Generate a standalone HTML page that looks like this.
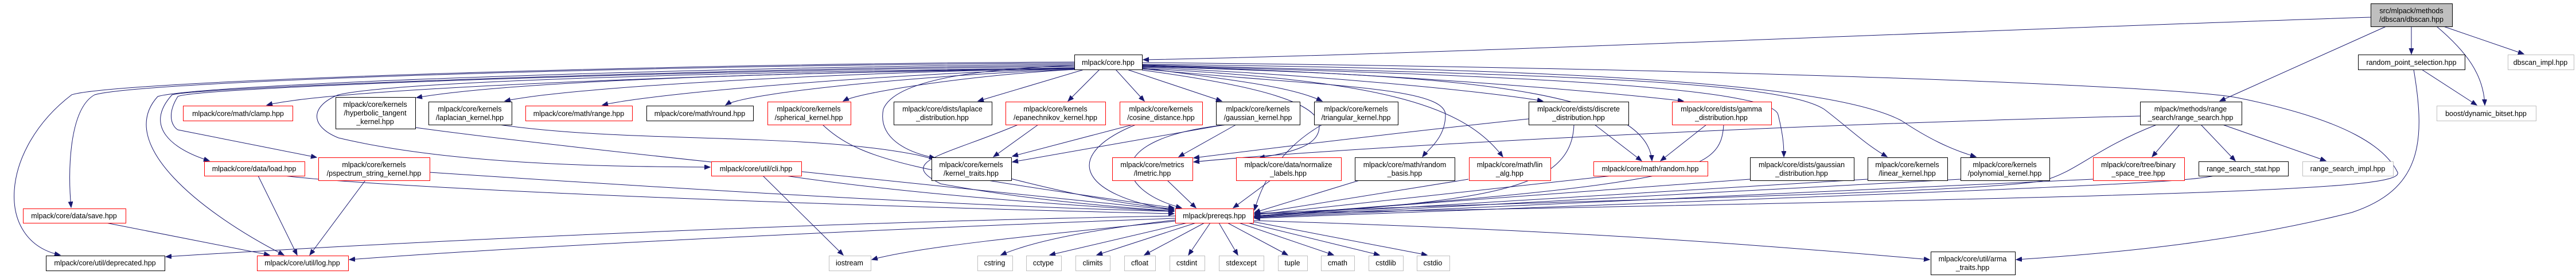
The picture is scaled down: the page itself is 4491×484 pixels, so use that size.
<!DOCTYPE html>
<html><head><meta charset="utf-8"><style>
html,body{margin:0;padding:0;background:#fff;}
svg{display:block;}
text{font-family:"Liberation Sans",sans-serif;font-size:12.5px;fill:#000;text-anchor:middle;}
.r{fill:#fff;stroke:#ff0000;stroke-width:1;}
.b{fill:#fff;stroke:#000;stroke-width:1;}
.g{fill:#fff;stroke:#bfbfbf;stroke-width:1;}
.e{fill:none;stroke:#191970;stroke-width:1;marker-end:url(#a);}
</style></head><body>
<svg width="4491" height="484" viewBox="0 0 4491 484" xmlns="http://www.w3.org/2000/svg">
<defs><marker id="a" markerUnits="userSpaceOnUse" markerWidth="12" markerHeight="10" refX="10" refY="4" orient="auto"><path d="M0,0 L10,4 L0,8 z" fill="#191970" stroke="#191970"/></marker></defs>
<g>
<!-- edges from core left -->
<path class="e" d="M1873,110 C1200,112 250,140 165,165 C120,190 118,300 124,361"/>
<path class="e" d="M1873,108 C1200,110 200,140 125,165 C0,260 -10,420 105,444"/>
<path class="e" d="M1873,112 C1300,115 350,145 275,168 C200,250 350,370 495,444"/>
<path class="e" d="M1873,114 C1300,118 360,150 300,165 C250,220 300,260 365,280"/>
<path class="e" d="M1873,116 C1300,120 350,150 310,168 C290,200 300,220 310,226 L552,274"/>
<path class="e" d="M1873,118 C1400,125 600,150 465,183"/>
<path class="e" d="M1873,120 C1400,125 900,140 726,170"/>
<path class="e" d="M1873,119 C1500,125 1000,150 880,176"/>
<path class="e" d="M1873,120 C1600,125 1150,160 1050,183"/>
<path class="e" d="M1873,121 C1650,128 1300,160 1265,183"/>
<path class="e" d="M1873,121 C1700,130 1500,160 1470,176"/>
<path class="e" d="M1873,118 C1300,125 700,140 590,165 C540,185 540,220 590,240 C800,290 1100,290 1238,291"/>
<path class="e" d="M1873,114 C1700,120 1560,140 1540,190 C1530,240 1580,265 1630,275"/>
<path class="e" d="M1890,121 L1705,176"/>
<path class="e" d="M1917,121 L1862,176"/>
<path class="e" d="M1945,121 L1995,176"/>
<path class="e" d="M1965,121 L2130,176"/>
<path class="e" d="M1991,118 C2150,140 2250,150 2305,176"/>
<path class="e" d="M1991,122 C2200,150 2300,180 2300,220 C2300,255 2250,265 2195,275"/>
<path class="e" d="M1991,120 C2300,150 2520,150 2520,200 C2520,240 2490,260 2480,273"/>
<path class="e" d="M1991,119 C2400,140 2550,180 2620,273"/>
<path class="e" d="M1991,117 C2300,130 2600,160 2690,176"/>
<path class="e" d="M1991,116 C2500,130 2870,150 2880,280"/>
<path class="e" d="M1991,115 C2400,125 2800,160 2935,176"/>
<path class="e" d="M1991,114 C2600,130 3090,150 3100,200 C3110,240 3110,260 3110,273"/>
<path class="e" d="M1991,113 C2700,130 3100,140 3180,190 C3220,220 3250,250 3290,273"/>
<path class="e" d="M1991,112 C2800,120 3200,150 3315,210 C3360,240 3400,260 3445,273"/>
<path class="e" d="M1991,109 C3000,118 3800,150 3900,170 C4100,210 4160,260 4180,300 C4190,330 3900,340 2187,372"/>
<path class="e" d="M4133,30 C3500,50 2500,95 1993,104"/>
<path class="e" d="M3731,202 C3000,220 2300,260 2081,282"/>
<path class="e" d="M2665,207 C2400,235 2200,260 2081,275"/>
<!-- log / deprecated -->
<path class="e" d="M185,388 L470,444"/>
<path class="e" d="M450,306 L518,444"/>
<path class="e" d="M637,314 L540,444"/>
<path class="e" d="M2049,380 C1500,400 900,430 609,452"/>
<path class="e" d="M2049,376 C1500,385 800,415 289,447"/>
<path class="e" d="M2049,385 C1800,410 1600,430 1520,452"/>
<path class="e" d="M1330,306 L1470,444"/>
<!-- into prereqs -->
<path class="e" d="M495,306 C700,330 1500,360 2047,372"/>
<path class="e" d="M749,300 C1200,330 1700,360 2047,368"/>
<path class="e" d="M724,222 C1000,260 1700,330 2047,366"/>
<path class="e" d="M870,217 C1100,250 1400,230 1600,270 C1800,320 1900,350 2047,364"/>
<path class="e" d="M1434,217 C1500,280 1600,300 2047,362"/>
<path class="e" d="M1370,306 C1600,340 1900,360 2047,368"/>
<path class="e" d="M1810,217 L1732,273"/>
<path class="e" d="M1775,217 C1650,270 1560,280 1640,320 C1800,350 1950,360 2047,368"/>
<path class="e" d="M1975,217 L1765,272"/>
<path class="e" d="M1980,217 C1850,270 1880,340 2047,366"/>
<path class="e" d="M2136,217 L1765,282"/>
<path class="e" d="M2155,217 L2055,273"/>
<path class="e" d="M2140,217 C1920,240 1940,330 2060,362"/>
<path class="e" d="M2035,314 L2085,362"/>
<path class="e" d="M2215,314 L2150,362"/>
<path class="e" d="M2305,217 C2230,260 2200,320 2187,366"/>
<path class="e" d="M2370,314 L2187,370"/>
<path class="e" d="M2560,312 L2187,372"/>
<path class="e" d="M2744,217 C2740,330 2600,350 2187,376"/>
<path class="e" d="M2780,217 L2862,280"/>
<path class="e" d="M2975,217 L2895,280"/>
<path class="e" d="M2810,306 L2187,374"/>
<path class="e" d="M3005,217 C3000,300 2950,320 2187,376"/>
<path class="e" d="M3051,312 L2187,376"/>
<path class="e" d="M3256,312 L2187,377"/>
<path class="e" d="M3418,312 L2187,378"/>
<path class="e" d="M3649,312 L2187,379"/>
<path class="e" d="M3760,217 C3650,260 3620,300 3560,315 C3400,340 2600,350 2187,372"/>
<path class="e" d="M3860,306 C3800,320 3500,330 2187,380"/>
<!-- prereqs to std -->
<path class="e" d="M2049,383 C1900,400 1800,420 1745,444"/>
<path class="e" d="M2070,388 L1830,444"/>
<path class="e" d="M2085,388 L1912,444"/>
<path class="e" d="M2100,388 L1995,444"/>
<path class="e" d="M2110,388 L2072,444"/>
<path class="e" d="M2125,388 L2158,444"/>
<path class="e" d="M2140,388 L2245,444"/>
<path class="e" d="M2160,388 L2325,444"/>
<path class="e" d="M2175,388 L2405,444"/>
<path class="e" d="M2185,386 L2488,444"/>
<path class="e" d="M2185,384 C2700,400 3000,420 3364,452"/>
<!-- range search / dbscan -->
<path class="e" d="M3800,217 L3752,273"/>
<path class="e" d="M3837,217 L3897,280"/>
<path class="e" d="M3875,217 L4055,280"/>
<path class="e" d="M4160,46 L3870,176"/>
<path class="e" d="M4204,46 L4204,94"/>
<path class="e" d="M4248,46 C4300,90 4330,130 4332,183"/>
<path class="e" d="M4260,46 L4400,94"/>
<path class="e" d="M4222,121 L4318,183"/>
<path class="e" d="M4208,121 C4230,250 4220,330 4100,370 C3900,420 3700,440 3515,452"/>
</g>
<g>
<rect class="r" x="319.5" y="184.5" width="191" height="26"/><text x="415" y="202">mlpack/core/math/clamp.hpp</text>
<rect class="b" x="585.5" y="169.5" width="139" height="55"/><text x="654" y="186">mlpack/core/kernels</text><text x="654" y="201">/hyperbolic_tangent</text><text x="654" y="216">_kernel.hpp</text>
<rect class="r" x="356.5" y="281.5" width="175" height="25"/><text x="443" y="298">mlpack/core/data/load.hpp</text>
<rect class="r" x="555.5" y="274.5" width="194" height="40"/><text x="652" y="291">mlpack/core/kernels</text><text x="652" y="306">/pspectrum_string_kernel.hpp</text>
<rect class="r" x="40.5" y="363.5" width="179" height="25"/><text x="129" y="380">mlpack/core/data/save.hpp</text>
<rect class="b" x="80.5" y="445.5" width="207" height="26"/><text x="183" y="462">mlpack/core/util/deprecated.hpp</text>
<rect class="r" x="448.5" y="445.5" width="159" height="26"/><text x="527" y="462">mlpack/core/util/log.hpp</text>
<rect class="b" x="747.5" y="177.5" width="145" height="40"/><text x="819" y="194">mlpack/core/kernels</text><text x="819" y="209">/laplacian_kernel.hpp</text>
<rect class="r" x="916.5" y="184.5" width="186" height="26"/><text x="1009" y="202">mlpack/core/math/range.hpp</text>
<rect class="b" x="1127.5" y="184.5" width="186" height="26"/><text x="1220" y="202">mlpack/core/math/round.hpp</text>
<rect class="r" x="1338.5" y="177.5" width="145" height="40"/><text x="1410" y="194">mlpack/core/kernels</text><text x="1410" y="209">/spherical_kernel.hpp</text>
<rect class="r" x="1240.5" y="281.5" width="157" height="25"/><text x="1318" y="298">mlpack/core/util/cli.hpp</text>
<rect class="g" x="1445.5" y="445.5" width="73" height="26"/><text x="1481" y="462">iostream</text>
<rect class="b" x="1873.5" y="95.5" width="118" height="26"/><text x="1932" y="113">mlpack/core.hpp</text>
<rect class="b" x="1558.5" y="177.5" width="171" height="40"/><text x="1643" y="194">mlpack/core/dists/laplace</text><text x="1643" y="209">_distribution.hpp</text>
<rect class="r" x="1753.5" y="177.5" width="174" height="40"/><text x="1840" y="194">mlpack/core/kernels</text><text x="1840" y="209">/epanechnikov_kernel.hpp</text>
<rect class="r" x="1952.5" y="177.5" width="144" height="40"/><text x="2024" y="194">mlpack/core/kernels</text><text x="2024" y="209">/cosine_distance.hpp</text>
<rect class="b" x="2120.5" y="177.5" width="146" height="40"/><text x="2193" y="194">mlpack/core/kernels</text><text x="2193" y="209">/gaussian_kernel.hpp</text>
<rect class="b" x="1624.5" y="274.5" width="139" height="40"/><text x="1693" y="291">mlpack/core/kernels</text><text x="1693" y="306">/kernel_traits.hpp</text>
<rect class="r" x="1939.5" y="274.5" width="140" height="40"/><text x="2009" y="291">mlpack/core/metrics</text><text x="2009" y="306">/lmetric.hpp</text>
<rect class="r" x="2155.5" y="274.5" width="183" height="40"/><text x="2246" y="291">mlpack/core/data/normalize</text><text x="2246" y="306">_labels.hpp</text>
<rect class="r" x="2049.5" y="363.5" width="136" height="25"/><text x="2117" y="380">mlpack/prereqs.hpp</text>
<rect class="g" x="1704.5" y="445.5" width="61" height="26"/><text x="1734" y="462">cstring</text>
<rect class="g" x="1789.5" y="445.5" width="61" height="26"/><text x="1819" y="462">cctype</text>
<rect class="g" x="1875.5" y="445.5" width="60" height="26"/><text x="1905" y="462">climits</text>
<rect class="g" x="1960.5" y="445.5" width="54" height="26"/><text x="1987" y="462">cfloat</text>
<rect class="g" x="2039.5" y="445.5" width="61" height="26"/><text x="2069" y="462">cstdint</text>
<rect class="g" x="2125.5" y="445.5" width="78" height="26"/><text x="2164" y="462">stdexcept</text>
<rect class="g" x="2228.5" y="445.5" width="51" height="26"/><text x="2253" y="462">tuple</text>
<rect class="g" x="2303.5" y="445.5" width="58" height="26"/><text x="2332" y="462">cmath</text>
<rect class="g" x="2386.5" y="445.5" width="60" height="26"/><text x="2416" y="462">cstdlib</text>
<rect class="g" x="2470.5" y="445.5" width="57" height="26"/><text x="2498" y="462">cstdio</text>
<rect class="b" x="2291.5" y="177.5" width="146" height="40"/><text x="2364" y="194">mlpack/core/kernels</text><text x="2364" y="209">/triangular_kernel.hpp</text>
<rect class="b" x="2362.5" y="274.5" width="174" height="40"/><text x="2449" y="291">mlpack/core/math/random</text><text x="2449" y="306">_basis.hpp</text>
<rect class="r" x="2561.5" y="274.5" width="142" height="40"/><text x="2632" y="291">mlpack/core/math/lin</text><text x="2632" y="306">_alg.hpp</text>
<rect class="b" x="2665.5" y="177.5" width="174" height="40"/><text x="2752" y="194">mlpack/core/dists/discrete</text><text x="2752" y="209">_distribution.hpp</text>
<rect class="r" x="2778.5" y="281.5" width="199" height="25"/><text x="2877" y="298">mlpack/core/math/random.hpp</text>
<rect class="r" x="2915.5" y="177.5" width="173" height="40"/><text x="3001" y="194">mlpack/core/dists/gamma</text><text x="3001" y="209">_distribution.hpp</text>
<rect class="b" x="3051.5" y="274.5" width="181" height="40"/><text x="3141" y="291">mlpack/core/dists/gaussian</text><text x="3141" y="306">_distribution.hpp</text>
<rect class="b" x="3256.5" y="274.5" width="139" height="40"/><text x="3325" y="291">mlpack/core/kernels</text><text x="3325" y="306">/linear_kernel.hpp</text>
<rect class="b" x="3418.5" y="274.5" width="155" height="40"/><text x="3495" y="291">mlpack/core/kernels</text><text x="3495" y="306">/polynomial_kernel.hpp</text>
<rect class="r" x="3649.5" y="274.5" width="159" height="40"/><text x="3728" y="291">mlpack/core/tree/binary</text><text x="3728" y="306">_space_tree.hpp</text>
<rect class="b" x="3366.5" y="438.5" width="147" height="40"/><text x="3439" y="455">mlpack/core/util/arma</text><text x="3439" y="470">_traits.hpp</text>
<rect class="b" x="3731.5" y="177.5" width="177" height="40"/><text x="3819" y="194">mlpack/methods/range</text><text x="3819" y="209">_search/range_search.hpp</text>
<rect x="4133.5" y="6.5" width="142" height="40" fill="#bfbfbf" stroke="#000"/><text x="4204" y="23">src/mlpack/methods</text><text x="4204" y="38">/dbscan/dbscan.hpp</text>
<rect class="b" x="4111.5" y="95.5" width="186" height="26"/><text x="4204" y="113">random_point_selection.hpp</text>
<rect class="g" x="4372.5" y="95.5" width="115" height="26"/><text x="4429" y="113">dbscan_impl.hpp</text>
<rect class="g" x="4248.5" y="184.5" width="173" height="26"/><text x="4334" y="202">boost/dynamic_bitset.hpp</text>
<rect class="b" x="3833.5" y="281.5" width="156" height="25"/><text x="3911" y="298">range_search_stat.hpp</text>
<rect class="g" x="4014.5" y="281.5" width="158" height="25"/><text x="4093" y="298">range_search_impl.hpp</text>
</g>
</svg>
</body></html>
